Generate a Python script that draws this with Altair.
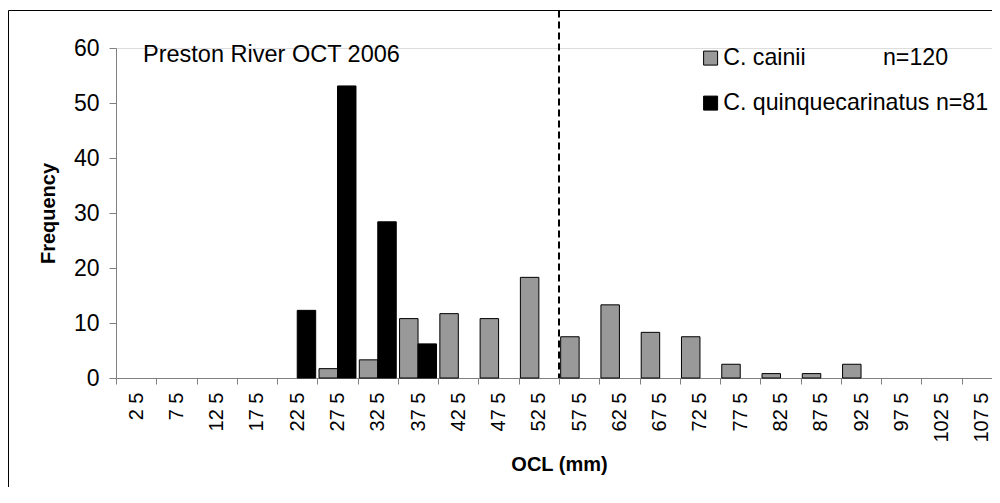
import altair as alt
import pandas as pd

# ---- data ----
categories = ["2 5", "7 5", "12 5", "17 5", "22 5", "27 5", "32 5", "37 5", "42 5", "47 5",
              "52 5", "57 5", "62 5", "67 5", "72 5", "77 5", "82 5", "87 5", "92 5", "97 5",
              "102 5", "107 5"]

cainii_cats = ["27 5", "32 5", "37 5", "42 5", "47 5", "52 5", "57 5", "62 5", "67 5",
               "72 5", "77 5", "82 5", "87 5", "92 5"]
cainii_vals = [1.7, 3.3, 10.8, 11.7, 10.8, 18.3, 7.5, 13.3, 8.3, 7.5, 2.5, 0.8, 0.8, 2.5]

quinq_cats = ["22 5", "27 5", "32 5", "37 5"]
quinq_vals = [12.3, 53.1, 28.4, 6.2]

series_names = ["C. cainii" + "\u00a0" * 12 + "n=120", "C. quinquecarinatus n=81"]
series_colors = ["#999999", "#000000"]

divider_cat = ["57 5"]
title_text = "Preston River OCT 2006"

FONT = "Liberation Sans"
W = 876          # visible plot width (page is cropped at the right, like the reference)
XRANGE = 886     # full band-scale extent (continues to the right edge)
H = 330
PAD_L, PAD_T, PAD_B = 108, 40, 109

rows = []
for c, v in zip(cainii_cats, cainii_vals):
    rows.append({"cat": c, "val": v, "series": series_names[0]})
for c, v in zip(quinq_cats, quinq_vals):
    rows.append({"cat": c, "val": v, "series": series_names[1]})
df = pd.DataFrame(rows)

xscale = alt.Scale(domain=categories, paddingInner=0, paddingOuter=0, range=[0, XRANGE])
xaxis = alt.Axis(
    title="OCL (mm)", titleFont=FONT, titleFontSize=20, titleFontWeight="bold",
    titleColor="black", titlePadding=12, titleX=XRANGE / 2,
    labelAngle=270, labelFont=FONT, labelFontSize=20, labelColor="black",
    labelPadding=8, labelOverlap=False,
    domainColor="#808080", tickColor="#808080", tickSize=6, tickBand="extent",
    grid=False,
)

bars = alt.Chart(df).mark_bar(stroke="black", strokeWidth=1).encode(
    x=alt.X("cat:N", scale=xscale, axis=xaxis, sort=categories),
    xOffset=alt.XOffset("series:N", scale=alt.Scale(domain=series_names, paddingInner=0, paddingOuter=0.09)),
    y=alt.Y("val:Q", scale=alt.Scale(domain=[0, 60], nice=False),
            axis=alt.Axis(
                title="Frequency", titleFont=FONT, titleFontSize=20, titleFontWeight="bold",
                titleColor="black", titlePadding=15,
                values=[0, 10, 20, 30, 40, 50, 60],
                labelFont=FONT, labelFontSize=23, labelColor="black", labelPadding=10,
                domainColor="#808080", tickColor="#808080", tickSize=7, grid=False,
            )),
    color=alt.Color("series:N",
                    scale=alt.Scale(domain=series_names, range=series_colors),
                    legend=alt.Legend(
                        title=None, orient="none", legendX=583, legendY=-1.5,
                        symbolType="square", symbolSize=196, symbolStrokeColor="black",
                        symbolStrokeWidth=1, labelFont=FONT, labelFontSize=23.2,
                        labelColor="black", labelOffset=1, rowPadding=21, padding=0,
                        labelLimit=400,
                    )),
)

frame = alt.Chart(pd.DataFrame({"k": [0]})).mark_rect(
    fillOpacity=0, stroke="black", strokeWidth=1
).encode(
    x=alt.value(-107.5), x2=alt.value(W + 60),
    y=alt.value(-37.5), y2=alt.value(H + 200),
)

divider = alt.Chart(pd.DataFrame({"cat": divider_cat})).mark_rule(
    color="black", strokeWidth=2, strokeDash=[7, 4]
).encode(
    x=alt.X("cat:N", scale=xscale, axis=xaxis, sort=categories, bandPosition=0),
    y=alt.value(-37.5), y2=alt.value(H),
)

title = alt.Chart(pd.DataFrame({"t": [title_text]})).mark_text(
    font=FONT, fontSize=23.5, align="left", baseline="alphabetic", color="black"
).encode(
    text="t:N", x=alt.value(27), y=alt.value(14),
)

chart = alt.layer(frame, bars, divider, title).properties(
    width=W, height=H,
    padding={"left": PAD_L, "top": PAD_T, "right": 0, "bottom": PAD_B},
    autosize=alt.AutoSizeParams(type="none"),
).configure_view(stroke=None).configure(background="white")

chart.save("out.html", embed_options={"renderer": "svg", "actions": False})
